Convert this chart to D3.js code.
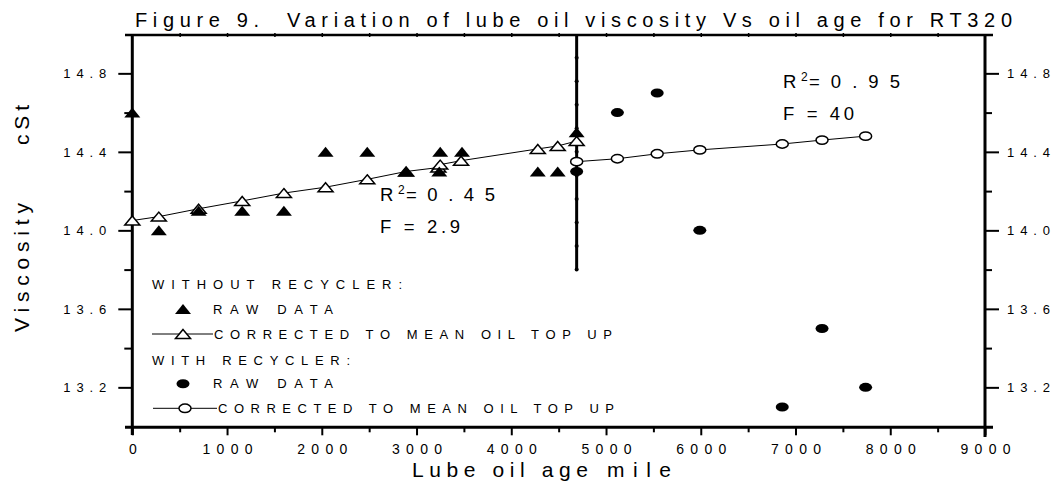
<!DOCTYPE html>
<html>
<head>
<meta charset="utf-8">
<script src="https://cdn.jsdelivr.net/npm/d3@7"></script>
<style>
  html, body { margin: 0; padding: 0; background: #fff; }
  svg { display: block; font-family: "Liberation Sans", Arial, sans-serif; }
  text { white-space: pre; }
</style>
</head>
<body>
<div id="viz"></div>
<script>
// data
const rawNoRecX = [0, 280, 700, 1160, 1600, 2040, 2480, 2890, 3240, 3250, 3480, 4280, 4490, 4690];
const rawNoRecY = [14.6, 14.0, 14.1, 14.1, 14.1, 14.4, 14.4, 14.3, 14.3, 14.4, 14.4, 14.3, 14.3, 14.5];
const corrNoRecX = [0, 280, 700, 1160, 1600, 2040, 2480, 2890, 3230, 3250, 3470, 4280, 4490, 4690];
const corrNoRecY = [14.05, 14.07, 14.11, 14.15, 14.19, 14.22, 14.26, 14.30, 14.32, 14.335, 14.355, 14.415, 14.43, 14.455];
const recX = [4690, 5120, 5540, 5990, 6860, 7280, 7740];
const rawRecY = [14.3, 14.6, 14.7, 14.0, 13.1, 13.5, 13.2];
const corrRecY = [14.35, 14.365, 14.39, 14.41, 14.44, 14.46, 14.48];

const xTicks = [0, 1000, 2000, 3000, 4000, 5000, 6000, 7000, 8000, 9000];
const xMinor = [500, 1500, 2500, 3500, 4500, 5500, 6500, 7500, 8500];
const yTicks = [13.2, 13.6, 14.0, 14.4, 14.8];
const yMinor = [13.4, 13.8, 14.2, 14.6];
const dividerX = 4690;
const dividerY = [13.8, 15.0];

const W = 1058, H = 482;
const x = d3.scaleLinear().domain([0, 9000]).range([132.3, 985]);
const y = d3.scaleLinear().domain([13.0, 15.0]).range([426.6, 34.1]);

const svg = d3.select("#viz").append("svg").attr("width", W).attr("height", H);

// spaced-out text helper (letters spread like the original typewriter look)
function spaced(sel, str, len) {
  return sel.text(str).attr("textLength", len).attr("lengthAdjust", "spacing");
}

// title
spaced(svg.append("text").attr("x", 135).attr("y", 27).style("font-size", "20px"),
  "Figure 9.  Variation of lube oil viscosity Vs oil age for RT320", 877);

// axes frame
const frame = svg.append("g").attr("stroke", "#000").attr("fill", "none");
frame.append("line").attr("x1", 125).attr("x2", 993).attr("y1", 35).attr("y2", 35).attr("stroke-width", 2.5);
frame.append("line").attr("x1", 125).attr("x2", 993).attr("y1", 427.3).attr("y2", 427.3).attr("stroke-width", 3);
frame.append("line").attr("x1", x(0)).attr("x2", x(0)).attr("y1", 35).attr("y2", 435).attr("stroke-width", 3);
frame.append("line").attr("x1", x(9000)).attr("x2", x(9000)).attr("y1", 35).attr("y2", 437).attr("stroke-width", 3);

// bottom axis
const xAxis = svg.append("g").attr("transform", "translate(0,427.3)")
  .call(d3.axisBottom(x).tickValues(xTicks).tickSize(8).tickPadding(9).tickFormat(d3.format("d")));
xAxis.select(".domain").remove();
xAxis.selectAll(".tick line").attr("stroke-width", 2);
xAxis.selectAll(".tick text").style("font-size", "14px").attr("font-family", null)
  .each(function(d) { if (d > 0) d3.select(this).attr("textLength", 50).attr("lengthAdjust", "spacing"); });
const xMin = svg.append("g").attr("transform", "translate(0,427.3)")
  .call(d3.axisBottom(x).tickValues(xMinor).tickSize(5).tickFormat(""));
xMin.select(".domain").remove();
xMin.selectAll(".tick line").attr("stroke-width", 2);

// top axis tiny ticks
const topT = svg.append("g").attr("transform", "translate(0,37)")
  .call(d3.axisTop(x).tickValues(xMinor.concat(xTicks.slice(1, -1))).tickSize(4).tickFormat(""));
topT.select(".domain").remove();
topT.selectAll(".tick line").attr("stroke-width", 1.5);

// left and right axes
function yAxisPair(axisFn, xpos, big, small, pad, anchor) {
  const g = svg.append("g").attr("transform", `translate(${xpos},0)`)
    .call(axisFn(y).tickValues(yTicks).tickSize(big).tickPadding(pad).tickFormat(d3.format(".1f")));
  g.select(".domain").remove();
  g.selectAll(".tick line").attr("stroke-width", 2);
  g.selectAll(".tick text").style("font-size", "13px").attr("font-family", null)
    .attr("text-anchor", anchor).attr("textLength", 43).attr("lengthAdjust", "spacing");
  const m = svg.append("g").attr("transform", `translate(${xpos},0)`)
    .call(axisFn(y).tickValues(yMinor).tickSize(small).tickFormat(""));
  m.select(".domain").remove();
  m.selectAll(".tick line").attr("stroke-width", 2);
}
yAxisPair(d3.axisLeft, x(0), 14, 8, 12, "end");
yAxisPair(d3.axisRight, x(9000), 14, 7, 8, "start");

// axis titles
spaced(svg.append("text").attr("x", 412).attr("y", 477).style("font-size", "21px"), "Lube oil age", 176);
spaced(svg.append("text").attr("x", 607).attr("y", 477).style("font-size", "21px"), "mile", 64);
spaced(svg.append("text").attr("transform", "translate(28.5,332) rotate(-90)").style("font-size", "21px"),
  "Viscosity", 129);
spaced(svg.append("text").attr("transform", "translate(28.5,145) rotate(-90)").style("font-size", "21px"),
  "cSt", 40);

// divider line with small dots
svg.append("line").attr("x1", x(dividerX)).attr("x2", x(dividerX))
  .attr("y1", y(dividerY[1])).attr("y2", y(dividerY[0]))
  .attr("stroke", "#000").attr("stroke-width", 3);
svg.append("g").selectAll("circle")
  .data(d3.range(1, 11).map(k => dividerY[1] - k * 0.12))
  .join("circle").attr("cx", x(dividerX)).attr("cy", d => y(d)).attr("r", 2).attr("fill", "#000");

// markers
const triPath = "M0,-5L8,5L-8,5Z";
const triOpen = "M0,-4.5L7.5,4.5L-7.5,4.5Z";
const lineGen = d3.line().x(d => x(d[0])).y(d => y(d[1]));

const noRecCorr = corrNoRecX.map((v, i) => [v, corrNoRecY[i]]);
const recCorr = recX.map((v, i) => [v, corrRecY[i]]);

svg.append("path").datum(noRecCorr).attr("d", lineGen).attr("fill", "none").attr("stroke", "#000").attr("stroke-width", 1);
svg.append("path").datum(recCorr).attr("d", lineGen).attr("fill", "none").attr("stroke", "#000").attr("stroke-width", 1);

svg.append("g").selectAll("path")
  .data(noRecCorr)
  .join("path").attr("d", triOpen).attr("transform", d => `translate(${x(d[0])},${y(d[1])})`)
  .attr("fill", "#fff").attr("stroke", "#000").attr("stroke-width", 1.5);

svg.append("g").selectAll("path")
  .data(rawNoRecX.map((v, i) => [v, rawNoRecY[i]]))
  .join("path").attr("d", triPath).attr("transform", d => `translate(${x(d[0])},${y(d[1])})`).attr("fill", "#000");

svg.append("g").selectAll("ellipse")
  .data(recCorr)
  .join("ellipse").attr("cx", d => x(d[0])).attr("cy", d => y(d[1])).attr("rx", 6).attr("ry", 4.2)
  .attr("fill", "#fff").attr("stroke", "#000").attr("stroke-width", 1.5);

svg.append("g").selectAll("ellipse")
  .data(recX.map((v, i) => [v, rawRecY[i]]))
  .join("ellipse").attr("cx", d => x(d[0])).attr("cy", d => y(d[1])).attr("rx", 6.5).attr("ry", 4.5).attr("fill", "#000");

// statistics annotations
function stat(x0, yb, r2, f, wEq, wF) {
  const fs = "18.5px";
  svg.append("text").attr("x", x0).attr("y", yb).style("font-size", fs).text("R");
  svg.append("text").attr("x", x0 + 18).attr("y", yb - 7).style("font-size", "12px").text("2");
  spaced(svg.append("text").attr("x", x0 + 26).attr("y", yb).style("font-size", fs), "=" + r2, wEq);
  spaced(svg.append("text").attr("x", x0).attr("y", yb + 32).style("font-size", fs), f, wF);
}
stat(380, 201, "0.45", "F = 2.9", 89, 80);
stat(783, 88, "0.95", "F = 40", 91, 71);

// legend
const leg = svg.append("g").style("font-size", "13px");
const rows = [289.3, 314, 339, 364.5, 388.3, 413.3];
spaced(leg.append("text").attr("x", 152).attr("y", rows[0]), "WITHOUT RECYCLER:", 250);
leg.append("path").attr("d", triPath).attr("transform", `translate(183,${rows[1] - 5})`).attr("fill", "#000");
spaced(leg.append("text").attr("x", 213).attr("y", rows[1]), "RAW DATA", 120);
leg.append("line").attr("x1", 152).attr("x2", 213).attr("y1", rows[2] - 5).attr("y2", rows[2] - 5).attr("stroke", "#000");
leg.append("path").attr("d", triOpen).attr("transform", `translate(183,${rows[2] - 5})`)
  .attr("fill", "#fff").attr("stroke", "#000").attr("stroke-width", 1.5);
spaced(leg.append("text").attr("x", 214).attr("y", rows[2]), "CORRECTED TO MEAN OIL TOP UP", 398);
spaced(leg.append("text").attr("x", 152).attr("y", rows[3]), "WITH RECYCLER:", 198);
leg.append("ellipse").attr("cx", 183).attr("cy", rows[4] - 4.5).attr("rx", 6.5).attr("ry", 4.5).attr("fill", "#000");
spaced(leg.append("text").attr("x", 213).attr("y", rows[4]), "RAW DATA", 120);
leg.append("line").attr("x1", 153).attr("x2", 217).attr("y1", rows[5] - 5).attr("y2", rows[5] - 5).attr("stroke", "#000");
leg.append("ellipse").attr("cx", 185).attr("cy", rows[5] - 5).attr("rx", 6).attr("ry", 4.2)
  .attr("fill", "#fff").attr("stroke", "#000").attr("stroke-width", 1.5);
spaced(leg.append("text").attr("x", 218).attr("y", rows[5]), "CORRECTED TO MEAN OIL TOP UP", 396);
</script>
</body>
</html>
